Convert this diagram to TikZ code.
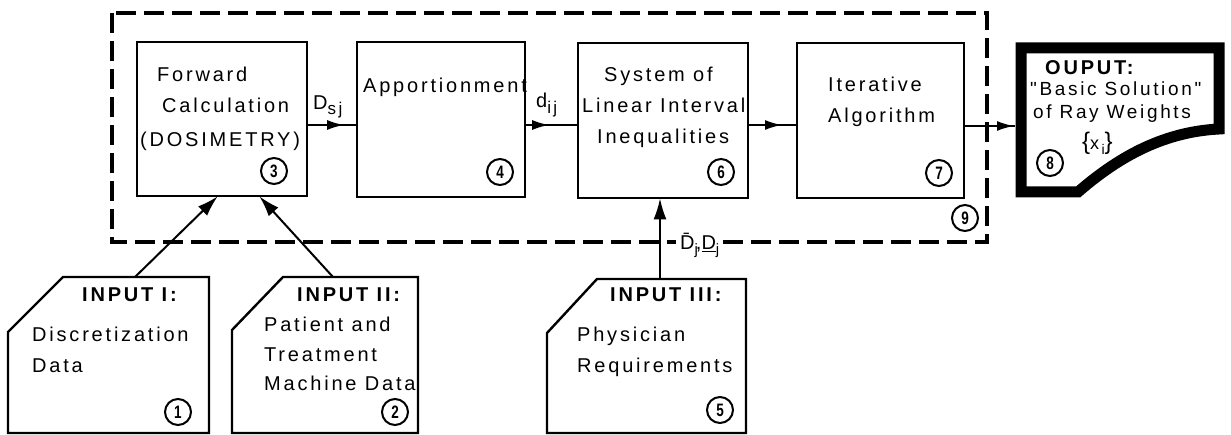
\documentclass[tikz,border=0pt]{standalone}
\usepackage{fontspec}
\setmainfont{Liberation Sans}
\newfontfamily\lab{Liberation Sans}[LetterSpace=14]
\usetikzlibrary{arrows.meta,decorations.markings}
\begin{document}
\begin{tikzpicture}[x=1pt,y=-1pt,
  box/.style={draw, line width=2.4pt, inner sep=0pt, anchor=north west},
  txt/.style={anchor=base west, inner sep=0pt, font=\lab\fontsize{20}{20}\selectfont},
  stxt/.style={anchor=base west, inner sep=0pt, font=\lab\fontsize{19}{19}\selectfont},
  btxt/.style={txt, font=\lab\bfseries\fontsize{20}{20}\selectfont},
  num/.style={draw, circle, line width=2pt, minimum size=26pt, inner sep=0pt, font=\bfseries\fontsize{18}{18}\selectfont},
  shapeline/.style={line width=2.4pt, line join=miter},
  frame/.style={line width=3.6pt, dash pattern=on 20pt off 8pt},
  midarrow/.style={line width=2pt, postaction=decorate,
     decoration={markings, mark=at position #1 with {\arrow{Latex[length=17pt,width=10pt]}}}},
  endarrow/.style={line width=2pt, -{Latex[length=21pt,width=13pt]}, shorten >=-1pt}
]
\newcommand\cnum[1]{\scalebox{0.75}[1]{#1}}
\useasboundingbox[fill=white] (0,0) rectangle (1231,435);

% dashed frame (9)
\draw[frame] (112,13) rectangle (987,242);
\node[num] (n9) at (965,218) {\cnum{9}};

% process boxes
\node[box, minimum width=170pt, minimum height=154pt] (b3) at (136,41) {};
\node[box, minimum width=168pt, minimum height=155pt] (b4) at (356,41) {};
\node[box, minimum width=170pt, minimum height=155pt] (b6) at (577,42) {};
\node[box, minimum width=167pt, minimum height=155pt] (b7) at (796,42) {};

\node[txt] (t3a) at (157,82) {Forward};
\node[txt] (t3b) at (162,113) {Calculation};
\node[txt] (t3c) at (140,147) {(DOSIMETRY)};
\node[num] (n3) at (274,171) {\cnum{3}};

\node[txt] (t4a) at (363,93) {Apportionment};
\node[num] (n4) at (500,172) {\cnum{4}};

\node[txt] (t6a) at (604,82) {System of};
\node[txt] (t6b) at (582,113) {Linear Interval};
\node[txt] (t6c) at (597,144) {Inequalities};
\node[num] (n6) at (721,172) {\cnum{6}};

\node[txt] (t7a) at (828,92) {Iterative};
\node[txt] (t7b) at (828,123) {Algorithm};
\node[num] (n7) at (939,173) {\cnum{7}};

% output (8)
\draw[line width=11pt, line join=miter] (1021,48) -- (1219,48) -- (1219,129)
  .. controls (1160,132) and (1115,160) .. (1078,192) -- (1021,192) -- cycle;
\coordinate (outin) at (1015,126);
\node[btxt] (t8a) at (1045,75) {OUPUT:};
\node[stxt] (t8b) at (1030,96) {"Basic Solution"};
\node[stxt] (t8c) at (1033,119) {of Ray Weights};
\node[anchor=base west, inner sep=0pt] (t8d) at (1082,150)
  {\fontsize{24}{24}\selectfont\{\fontsize{18}{18}\selectfont x\raisebox{-5pt}{\fontsize{14}{14}\selectfont\,i}\fontsize{24}{24}\selectfont\}};
\node[num] (n8) at (1050,163) {\cnum{8}};

% inputs
\draw[shapeline] (8,332) -- (63,277) -- (209,277) -- (209,433) -- (8,433) -- cycle;
\coordinate (in1) at (135,277);
\node[btxt] (t1a) at (82,302) {INPUT I:};
\node[txt] (t1b) at (32,342) {Discretization};
\node[txt] (t1c) at (32,373) {Data};
\node[num] (n1) at (178,412) {\cnum{1}};

\draw[shapeline] (232,330) -- (283,277) -- (418,277) -- (418,433) -- (232,433) -- cycle;
\coordinate (in2) at (333,277);
\node[btxt] (t2a) at (297,302) {INPUT II:};
\node[txt] (t2b) at (264,332) {Patient and};
\node[txt] (t2c) at (264,362) {Treatment};
\node[txt] (t2d) at (264,390) {Machine Data};
\node[num] (n2) at (395,412) {\cnum{2}};

\draw[shapeline] (547,333) -- (597,279) -- (746,279) -- (746,433) -- (547,433) -- cycle;
\coordinate (in3) at (660,279);
\node[btxt] (t5a) at (610,302) {INPUT III:};
\node[txt] (t5b) at (577,342) {Physician};
\node[txt] (t5c) at (577,372) {Requirements};
\node[num] (n5) at (720,410) {\cnum{5}};

% connectors
\draw[midarrow=0.75] (b3.east |- 0,125) -- (b4.west |- 0,125);
\draw[midarrow=0.45] (b4.east |- 0,125) -- (b6.west |- 0,125);
\draw[midarrow=0.7] (b6.east |- 0,125) -- (b7.west |- 0,125);
\draw[midarrow=0.98] (b7.east |- 0,126) -- (outin);
\draw[endarrow] (in1) -- (217,197);
\draw[endarrow] (in2) -- (260,197);
\draw[endarrow] (in3) -- (b6.south -| in3);

% labels
\node[txt] (lds) at (313,110) {D\raisebox{-5pt}{\fontsize{17}{17}\selectfont sj}};
\node[txt] (ldij) at (536,108) {d\raisebox{-6pt}{\fontsize{17}{17}\selectfont ij}};
\node[txt, fill=white, inner xsep=4pt, inner ysep=3pt] (ldj) at (676,250) {\={D}\raisebox{-5pt}{\fontsize{15}{15}\selectfont j}\kern-2pt,\underline{D}\raisebox{-5pt}{\fontsize{15}{15}\selectfont j}};
\end{tikzpicture}
\end{document}
